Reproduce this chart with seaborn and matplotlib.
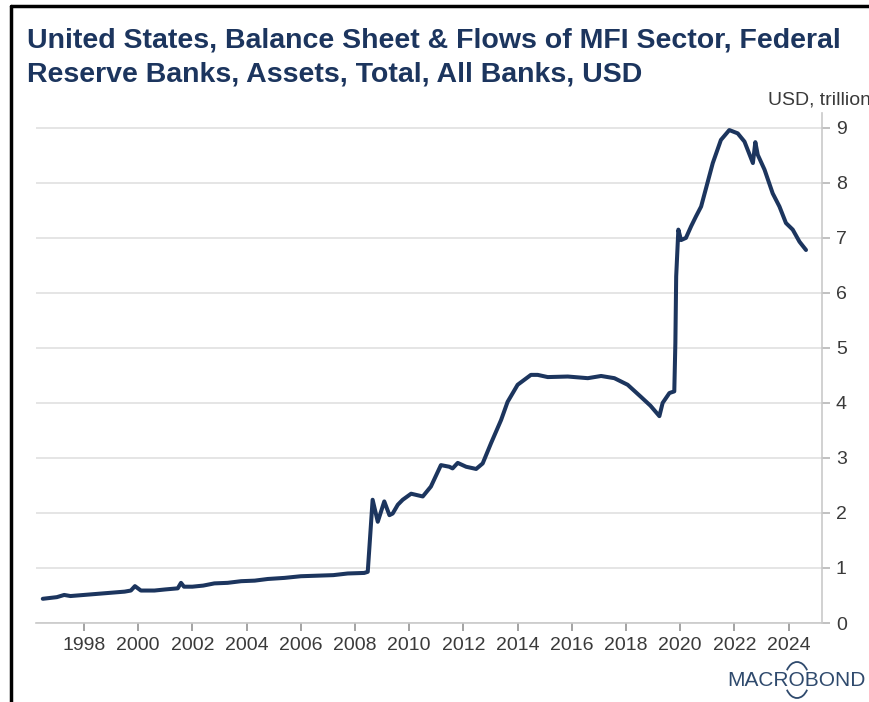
import matplotlib
matplotlib.use("Agg")
import matplotlib.pyplot as plt
from matplotlib.lines import Line2D
from matplotlib.patches import Arc
import seaborn as sns
import pandas as pd

# ---- data (decimal year, USD trillion) ----
years = [1996.48, 1997.0, 1997.27, 1997.5, 1998.0, 1998.5, 1999.0, 1999.5, 1999.73, 1999.88,
         2000.1, 2000.6, 2001.0, 2001.46, 2001.58, 2001.69, 2002.0, 2002.4, 2002.81, 2003.3,
         2003.8, 2004.3, 2004.78, 2005.4, 2006.0, 2006.6, 2007.2, 2007.73, 2008.34, 2008.47,
         2008.65, 2008.84, 2009.08, 2009.27, 2009.39, 2009.58, 2009.76, 2010.07, 2010.5, 2010.8,
         2011.17, 2011.48, 2011.6, 2011.79, 2012.1, 2012.47, 2012.71, 2013.02, 2013.39, 2013.63,
         2014.0, 2014.49, 2014.74, 2015.11, 2015.85, 2016.59, 2017.08, 2017.57, 2018.06, 2018.55,
         2018.9, 2019.23, 2019.35, 2019.6, 2019.78, 2019.82, 2019.85, 2019.93, 2020.03, 2020.21,
         2020.4, 2020.58, 2020.77, 2020.95, 2021.2, 2021.5, 2021.81, 2022.12, 2022.37, 2022.68,
         2022.77, 2022.86, 2023.11, 2023.41, 2023.66, 2023.9, 2024.15, 2024.4, 2024.64]
values = [0.44, 0.47, 0.51, 0.49, 0.51, 0.53, 0.55, 0.57, 0.59, 0.67,
          0.59, 0.59, 0.61, 0.63, 0.73, 0.66, 0.66, 0.68, 0.72, 0.73,
          0.76, 0.77, 0.80, 0.82, 0.85, 0.86, 0.87, 0.90, 0.91, 0.93,
          2.24, 1.84, 2.21, 1.96, 1.99, 2.15, 2.24, 2.35, 2.30, 2.48,
          2.87, 2.84, 2.81, 2.91, 2.84, 2.80, 2.90, 3.27, 3.69, 4.02,
          4.33, 4.51, 4.51, 4.47, 4.48, 4.45, 4.49, 4.45, 4.33, 4.11,
          3.95, 3.76, 4.00, 4.18, 4.21, 5.09, 6.30, 7.15, 6.96, 7.00,
          7.21, 7.39, 7.57, 7.90, 8.36, 8.78, 8.96, 8.90, 8.75, 8.36,
          8.74, 8.51, 8.24, 7.81, 7.57, 7.27, 7.15, 6.93, 6.78]

x_ticks = list(range(1998, 2025, 2))
y_ticks = list(range(0, 10))

title_lines = ["United States, Balance Sheet & Flows of MFI Sector, Federal",
               "Reserve Banks, Assets, Total, All Banks, USD"]
unit_label = "USD, trillion"

df = pd.DataFrame({"year": years, "value": values})

NAVY = "#1c355e"
GRID = "#e3e3e3"
AXC = "#c9c9c9"
TXT = "#3a3a3a"
LOGO = "#2f4a6d"

sns.set_theme(style="white")
plt.rcParams["font.family"] = ["Liberation Sans", "DejaVu Sans"]

fig = plt.figure(figsize=(8.7, 7.02), dpi=100)
W, H = 870, 702
ax = fig.add_axes([36 / W, (H - 623) / H, (822 - 36) / W, (623 - 113) / H])

sns.lineplot(data=df, x="year", y="value", ax=ax, color=NAVY, linewidth=2.9,
             estimator=None, sort=True)

ax.set_xlim(1996.23, 2025.23)
ax.set_ylim(0, 9.27)
ax.set_xticks(x_ticks)
ax.set_xticklabels([str(t) for t in x_ticks])
ax.set_yticks(y_ticks)
ax.set_yticklabels([str(t) for t in y_ticks])
ax.set_xlabel("")
ax.set_ylabel("")

ax.yaxis.tick_right()
ax.yaxis.set_label_position("right")
ax.grid(axis="y", color=GRID, linewidth=1.3)
ax.grid(axis="x", visible=False)
ax.set_axisbelow(True)
for s in ["top", "left"]:
    ax.spines[s].set_visible(False)
for s in ["right", "bottom"]:
    ax.spines[s].set_visible(True)
    ax.spines[s].set_color(AXC)
    ax.spines[s].set_linewidth(1.2)

ax.tick_params(axis="x", which="both", bottom=True, length=6, width=1.1, color="#8a8a8a",
               labelsize=14, labelcolor=TXT, pad=4)
ax.tick_params(axis="y", which="both", right=True, left=False, length=6, width=1.1,
               color="#b0b0b0", labelsize=14, labelcolor=TXT, pad=4)

fig.text(27 / W, 1 - 48 / H, title_lines[0], ha="left", va="baseline", fontsize=20.5,
         fontweight="bold", color=NAVY)
fig.text(27 / W, 1 - 82 / H, title_lines[1], ha="left", va="baseline", fontsize=20.5,
         fontweight="bold", color=NAVY)
fig.text(768 / W, 1 - 100 / H, unit_label, ha="left", va="center", fontsize=14, color=TXT)

# logo text
fig.text(866 / W, 1 - 680 / H, "MACROBOND", ha="right", va="center", fontsize=15,
         color=LOGO)
# short arcs above and below the first O of the logo
fig.add_artist(Arc((797 / W, 1 - 680 / H), 24 / W, 36 / H, theta1=50, theta2=130,
                   transform=fig.transFigure, color=LOGO, lw=1.3))
fig.add_artist(Arc((797 / W, 1 - 680 / H), 24 / W, 36 / H, theta1=230, theta2=310,
                   transform=fig.transFigure, color=LOGO, lw=1.3))

# black frame on the left and top
fig.add_artist(Line2D([11 / W, 11 / W], [0, 1 - 6 / H], transform=fig.transFigure,
                      color="black", lw=2.5))
fig.add_artist(Line2D([11 / W, 1], [1 - 6 / H, 1 - 6 / H], transform=fig.transFigure,
                      color="black", lw=2.5))

fig.savefig("out.png", dpi=100, facecolor="white")
